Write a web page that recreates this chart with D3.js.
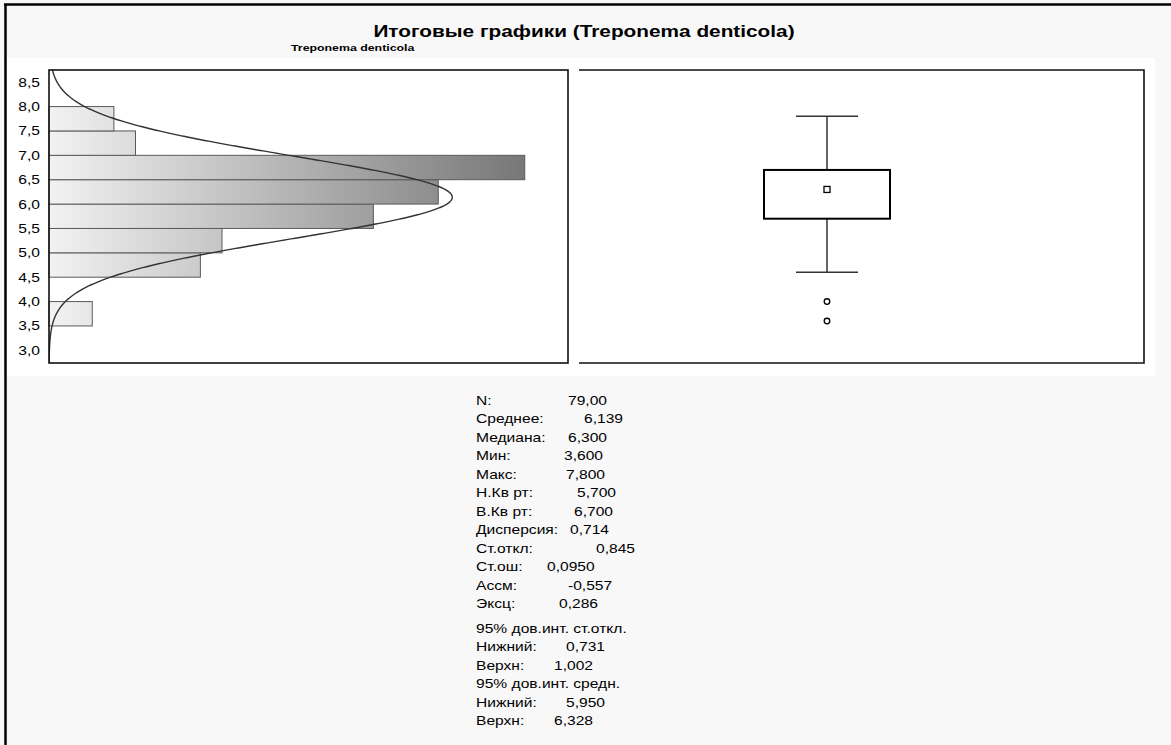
<!DOCTYPE html>
<html>
<head>
<meta charset="utf-8">
<script src="https://cdn.jsdelivr.net/npm/d3@7"></script>
<style>
  body { margin: 0; background: #f8f8f8; }
  svg { display: block; font-family: "Liberation Sans", Arial, sans-serif; }
</style>
</head>
<body>
<script>
// histogram bins (lower edge of each 0.5 wide bin) and counts
const binLow = [3.5, 4.0, 4.5, 5.0, 5.5, 6.0, 6.5, 7.0, 7.5]
const binCount = [2, 0, 7, 8, 15, 18, 22, 4, 3]
const binWidth = 0.5
const yTicks = [3.0, 3.5, 4.0, 4.5, 5.0, 5.5, 6.0, 6.5, 7.0, 7.5, 8.0, 8.5]

// summary numbers used for the fitted curve and box plot
const nObs = 79
const mean = 6.139
const sd = 0.845
const median = 6.300
const q1 = 5.700
const q3 = 6.700
const whiskerLow = 4.6
const whiskerHigh = 7.8
const outliers = [4.0, 3.6]

// text block under the plots
const statLabels = ["N:", "Среднее:", "Медиана:", "Мин:", "Макс:", "Н.Кв рт:", "В.Кв рт:",
  "Дисперсия:", "Ст.откл:", "Ст.ош:", "Ассм:", "Эксц:",
  "95% дов.инт. ст.откл.", "Нижний:", "Верхн:", "95% дов.инт. средн.", "Нижний:", "Верхн:"]
const statValues = ["79,00", "6,139", "6,300", "3,600", "7,800", "5,700", "6,700",
  "0,714", "0,845", "0,0950", "-0,557", "0,286",
  "", "0,731", "1,002", "", "5,950", "6,328"]
// tab stops of the value column (layout only)
const valueX = [568, 584, 568, 564, 566, 577, 574, 570, 596, 547, 568, 559, 0, 566, 554, 0, 566, 554]

const W = 1171, H = 745
const sx = 1.3  // the source fonts are stretched horizontally

const svg = d3.select("body").append("svg")
  .attr("width", W)
  .attr("height", H)

// background bands and the cropped outer frame
svg.append("rect").attr("x", 0).attr("y", 0).attr("width", W).attr("height", H).attr("fill", "#f8f8f8")
svg.append("rect").attr("x", 6).attr("y", 58).attr("width", 1149).attr("height", 318).attr("fill", "#ffffff")
svg.append("line").attr("x1", 4).attr("x2", W).attr("y1", 4.5).attr("y2", 4.5).attr("stroke", "#000").attr("stroke-width", 2.5)
svg.append("line").attr("x1", 5.5).attr("x2", 5.5).attr("y1", 4).attr("y2", H).attr("stroke", "#000").attr("stroke-width", 2.5)

function stretchedText(g, x, y, str, size, weight, anchor) {
  return g.append("text")
    .attr("transform", `translate(${x},${y}) scale(${sx},1)`)
    .attr("font-size", size)
    .attr("font-weight", weight || "normal")
    .attr("text-anchor", anchor || "start")
    .attr("fill", "#000")
    .text(str)
}

stretchedText(svg, 584, 37, "Итоговые графики (Treponema denticola)", 16, "bold", "middle")
stretchedText(svg, 291, 51, "Treponema denticola", 9.5, "bold", "start")

// ---- histogram panel ----
const hist = {left: 49, right: 568, top: 70, bottom: 363}

const y = d3.scaleLinear()
  .domain([2.74, 8.75])
  .range([hist.bottom, hist.top])

const x = d3.scaleLinear()
  .domain([0, 24])
  .range([hist.left, hist.right])

const defs = svg.append("defs")
const grad = defs.append("linearGradient")
  .attr("id", "barGradient")
  .attr("gradientUnits", "userSpaceOnUse")
  .attr("x1", hist.left).attr("x2", hist.right)
  .attr("y1", 0).attr("y2", 0)
grad.append("stop").attr("offset", "0%").attr("stop-color", "#f2f2f2")
grad.append("stop").attr("offset", "100%").attr("stop-color", "#6c6c6c")

defs.append("clipPath").attr("id", "histClip")
  .append("rect")
  .attr("x", hist.left).attr("y", hist.top)
  .attr("width", hist.right - hist.left).attr("height", hist.bottom - hist.top)

const bins = binLow.map((lo, i) => ({lo: lo, hi: lo + binWidth, count: binCount[i]}))

svg.append("g")
  .selectAll("rect")
  .data(bins.filter(d => d.count > 0))
  .join("rect")
    .attr("x", x(0))
    .attr("y", d => y(d.hi))
    .attr("width", d => x(d.count) - x(0))
    .attr("height", d => y(d.lo) - y(d.hi))
    .attr("fill", "url(#barGradient)")
    .attr("stroke", "#5a5a5a")
    .attr("stroke-width", 1)

// fitted normal curve, scaled to counts
const pdf = v => Math.exp(-0.5 * Math.pow((v - mean) / sd, 2)) / (sd * Math.sqrt(2 * Math.PI))
const curvePts = d3.range(y.domain()[0], y.domain()[1] + 0.01, 0.01)
  .map(v => ({v: v, c: nObs * binWidth * pdf(v)}))

svg.append("path")
  .datum(curvePts)
  .attr("clip-path", "url(#histClip)")
  .attr("fill", "none")
  .attr("stroke", "#333")
  .attr("stroke-width", 1.4)
  .attr("d", d3.line().x(d => x(d.c)).y(d => y(d.v)).curve(d3.curveBasis))

svg.append("rect")
  .attr("x", hist.left).attr("y", hist.top)
  .attr("width", hist.right - hist.left).attr("height", hist.bottom - hist.top)
  .attr("fill", "none")
  .attr("stroke", "#111")
  .attr("stroke-width", 1.6)

// y tick labels
const yAxis = svg.append("g")
yTicks.forEach(t => {
  stretchedText(yAxis, 40, y(t) + 4.5, d3.format(".1f")(t).replace(".", ","), 12, "normal", "end")
})

// ---- box plot panel ----
const boxPanel = {left: 579, right: 1144}
const xBox = d3.scaleBand()
  .domain(["Treponema denticola"])
  .range([579, 1075])
const cx = xBox("Treponema denticola") + xBox.bandwidth() / 2
const boxHalf = 63, capHalf = 31

const bp = svg.append("g")
bp.append("path")
  .attr("d", `M${boxPanel.left},${hist.top}H${boxPanel.right}V${hist.bottom}H${boxPanel.left}`)
  .attr("fill", "none")
  .attr("stroke", "#111")
  .attr("stroke-width", 1.6)

// whiskers
bp.append("line").attr("x1", cx).attr("x2", cx).attr("y1", y(whiskerHigh)).attr("y2", y(q3))
  .attr("stroke", "#333").attr("stroke-width", 1.5)
bp.append("line").attr("x1", cx).attr("x2", cx).attr("y1", y(q1)).attr("y2", y(whiskerLow))
  .attr("stroke", "#333").attr("stroke-width", 1.5)
bp.selectAll(".cap")
  .data([whiskerHigh, whiskerLow])
  .join("line")
    .attr("class", "cap")
    .attr("x1", cx - capHalf).attr("x2", cx + capHalf)
    .attr("y1", d => y(d)).attr("y2", d => y(d))
    .attr("stroke", "#333").attr("stroke-width", 1.5)

bp.append("rect")
  .attr("x", cx - boxHalf).attr("y", y(q3))
  .attr("width", boxHalf * 2).attr("height", y(q1) - y(q3))
  .attr("fill", "#fff")
  .attr("stroke", "#000")
  .attr("stroke-width", 2)

bp.append("rect")
  .attr("x", cx - 3).attr("y", y(median) - 3)
  .attr("width", 6).attr("height", 6)
  .attr("fill", "#fff")
  .attr("stroke", "#000")
  .attr("stroke-width", 1.3)

bp.selectAll(".outlier")
  .data(outliers)
  .join("circle")
    .attr("class", "outlier")
    .attr("cx", cx)
    .attr("cy", d => y(d))
    .attr("r", 2.8)
    .attr("fill", "#fff")
    .attr("stroke", "#000")
    .attr("stroke-width", 1.3)

// ---- statistics text ----
const stats = svg.append("g")
let rowY = 404.5
statLabels.forEach((lab, i) => {
  if (i === 12) rowY += 6
  stretchedText(stats, 476, rowY, lab, 12)
  if (statValues[i] !== "") stretchedText(stats, valueX[i], rowY, statValues[i], 12)
  rowY += 18.5
})
</script>
</body>
</html>
